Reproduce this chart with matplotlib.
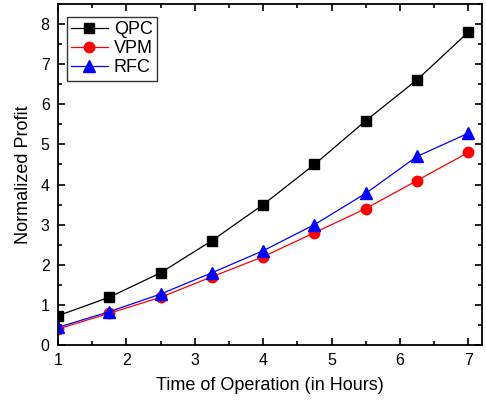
import numpy as np
import matplotlib
matplotlib.use("Agg")
import matplotlib.pyplot as plt
from matplotlib.ticker import MultipleLocator

plt.rcParams['font.family'] = ['Liberation Sans', 'DejaVu Sans']

# Data
hours = [1, 1.75, 2.5, 3.25, 4, 4.75, 5.5, 6.25, 7]
qpc = [0.73, 1.19, 1.80, 2.60, 3.50, 4.50, 5.59, 6.61, 7.80]
vpm = [0.40, 0.79, 1.19, 1.70, 2.20, 2.80, 3.40, 4.10, 4.80]
rfc = [0.44, 0.83, 1.27, 1.80, 2.35, 3.00, 3.78, 4.70, 5.28]

fig = plt.figure(figsize=(4.86, 4.05), dpi=100)
ax = fig.add_axes([58/486, 1 - 345/405, (482-58)/486, (345-4)/405])

ax.plot(hours, qpc, color='black', marker='s', markersize=7.5, lw=0.9, label='QPC')
ax.plot(hours, vpm, color='red', marker='o', markersize=7.5, lw=0.9, label='VPM')
ax.plot(hours, rfc, color='blue', marker='^', markersize=8, lw=0.9, label='RFC')

ax.set_xlim(1, 7.2)
ax.set_ylim(0, 8.5)
ax.xaxis.set_major_locator(MultipleLocator(1))
ax.xaxis.set_minor_locator(MultipleLocator(0.5))
ax.yaxis.set_major_locator(MultipleLocator(1))
ax.yaxis.set_minor_locator(MultipleLocator(0.5))
ax.tick_params(which='both', direction='in', top=True, right=True, labelsize=11.5, width=1.2)
ax.tick_params(which='major', length=5, pad=6)
ax.tick_params(which='minor', length=3)
for s in ax.spines.values():
    s.set_linewidth(1.3)

ax.set_xlabel("Time of Operation (in Hours)", fontsize=13, labelpad=6)
ax.set_ylabel("Normalized Profit", fontsize=13, labelpad=6)

leg = ax.legend(loc='upper left', bbox_to_anchor=(0.021, 0.962), borderaxespad=0,
                fontsize=13, frameon=True, fancybox=False, edgecolor='black',
                handlelength=2.0, borderpad=0.25, labelspacing=0.1, handletextpad=0.35)
leg.get_frame().set_linewidth(1.0)

fig.savefig("out.png", dpi=100)
